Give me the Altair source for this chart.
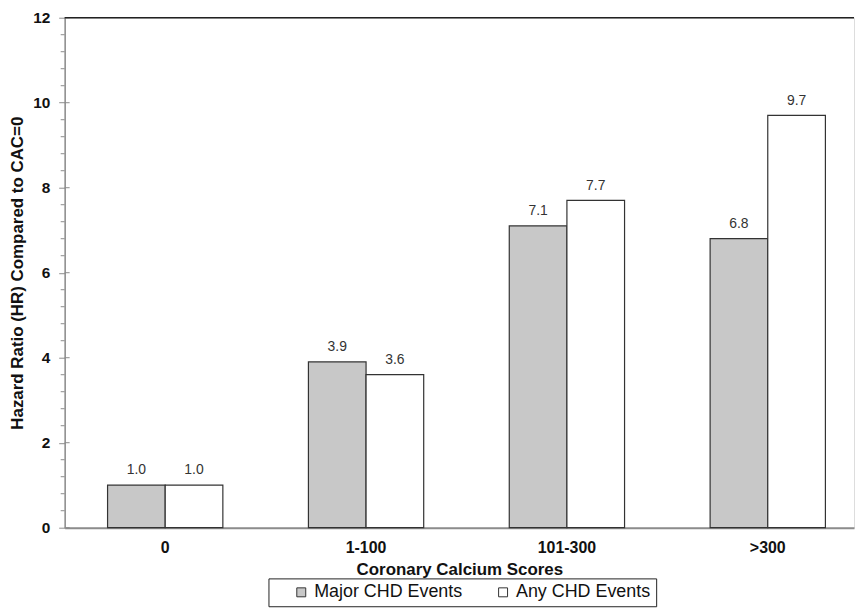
import altair as alt
import pandas as pd

categories = ["0", "1-100", "101-300", ">300"]
series = ["Major CHD Events", "Any CHD Events"]
major_vals = [1.0, 3.9, 7.1, 6.8]
any_vals = [1.0, 3.6, 7.7, 9.7]
major_ticks = [0, 2, 4, 6, 8, 10, 12]
minor_ticks = [0.4, 0.8, 1.2, 1.6, 2.4, 2.8, 3.2, 3.6, 4.4, 4.8, 5.2, 5.6,
               6.4, 6.8, 7.2, 7.6, 8.4, 8.8, 9.2, 9.6, 10.4, 10.8, 11.2, 11.6]

rows = []
for i, c in enumerate(categories):
    rows.append({"cat": c, "series": series[0], "hr": major_vals[i]})
    rows.append({"cat": c, "series": series[1], "hr": any_vals[i]})
df = pd.DataFrame(rows)

FONT = "Liberation Sans"
AXIS_GREY = "#8c8c8c"

x_enc = alt.X("cat:N", sort=categories, title="Coronary Calcium Scores",
              scale=alt.Scale(paddingInner=0.426, paddingOuter=0.178, align=0.6),
              axis=alt.Axis(labelAngle=0, ticks=False, labelFont=FONT, labelFontSize=16,
                            labelFontWeight="bold", labelColor="#111", labelPadding=12,
                            titleFont=FONT, titleFontSize=17, titleFontWeight="bold",
                            titleColor="#111", titlePadding=6, domainColor=AXIS_GREY,
                            domainWidth=2))
xoff = alt.XOffset("series:N", sort=series,
                   scale=alt.Scale(paddingInner=0, paddingOuter=0))
y_scale = alt.Scale(domain=[0, 12], nice=False)

bars = alt.Chart(df).mark_bar(stroke="#333333", strokeWidth=1.2).encode(
    x=x_enc,
    xOffset=xoff,
    y=alt.Y("hr:Q", scale=y_scale, title="Hazard Ratio (HR) Compared to CAC=0",
            axis=alt.Axis(values=major_ticks, format="d", labelOverlap=False,
                          grid=False, tickSize=6, tickColor=AXIS_GREY, domainColor=AXIS_GREY,
                          domainWidth=1.5, labelFont=FONT, labelFontSize=15.5,
                          labelFontWeight="bold", labelColor="#111", labelPadding=9,
                          titleFont=FONT, titleFontSize=17, titleFontWeight="bold",
                          titleColor="#111", titlePadding=6)),
    color=alt.Color("series:N", sort=series,
                    scale=alt.Scale(domain=series, range=["#c8c8c8", "#ffffff"]),
                    legend=alt.Legend(title=None, orient="none", direction="horizontal",
                                      columns=2, gridAlign="all",
                                      legendX=205, legendY=564, strokeColor="#222",
                                      padding=5, symbolType="square", symbolSize=81,
                                      symbolStrokeColor="#333", symbolStrokeWidth=1,
                                      symbolOffset=19, columnPadding=12, labelOffset=4,
                                      labelFont=FONT, labelFontSize=18, labelColor="#111",
                                      labelLimit=400)),
)

labels = alt.Chart(df).mark_text(baseline="bottom", dy=-8, font=FONT, fontSize=14,
                                 color="#333333").encode(
    x=alt.X("cat:N", sort=categories),
    xOffset=xoff,
    y=alt.Y("hr:Q", scale=y_scale),
    text=alt.Text("hr:Q", format=".1f"),
)

minor = alt.Chart(pd.DataFrame({"t": minor_ticks})).mark_rule(
    color=AXIS_GREY, strokeWidth=1).encode(
    y=alt.Y("t:Q", scale=y_scale), x=alt.value(-4), x2=alt.value(0)
)
major_in = alt.Chart(pd.DataFrame({"t": major_ticks})).mark_rule(
    color=AXIS_GREY, strokeWidth=1).encode(
    y=alt.Y("t:Q", scale=y_scale), x=alt.value(0), x2=alt.value(5)
)

top_line = alt.Chart(pd.DataFrame({"v": [12]})).mark_rule(color="#222", strokeWidth=1.5).encode(
    y=alt.Y("v:Q", scale=y_scale)
)

chart = alt.layer(minor, major_in, bars, labels, top_line).properties(
    width=794, height=513,
    padding={"left": 0, "top": 1, "right": 0, "bottom": 0},
).configure_view(stroke=None).configure(background="white")

chart.save("out.html", embed_options={"renderer": "svg", "actions": False})
